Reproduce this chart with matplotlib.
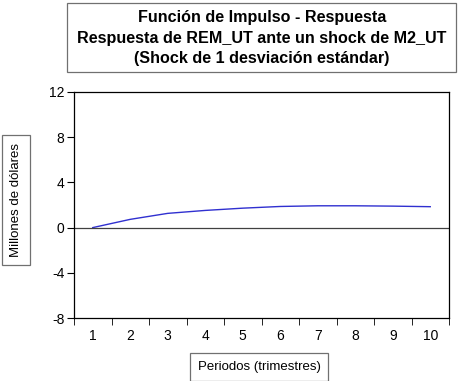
import numpy as np
import matplotlib
matplotlib.use("Agg")
import matplotlib.pyplot as plt
from matplotlib.ticker import FixedLocator

periodos = [1, 2, 3, 4, 5, 6, 7, 8, 9, 10]
respuesta = [0.0, 0.73, 1.26, 1.52, 1.72, 1.87, 1.93, 1.93, 1.90, 1.85]
y_ticks = [-8, -4, 0, 4, 8, 12]

plt.rcParams['font.family'] = ['Liberation Sans', 'DejaVu Sans']
plt.rcParams['axes.unicode_minus'] = False

fig = plt.figure(figsize=(4.58, 3.81), dpi=100)
ax = fig.add_axes([74 / 458, 1 - 318 / 381, 375 / 458, 226 / 381])

ax.plot(periodos, respuesta, color='#3030d0', lw=1.0)
ax.axhline(0, color='#404040', lw=0.9)

ax.set_xlim(0.5, 10.5)
ax.set_ylim(-8, 12)
ax.set_yticks(y_ticks)
ax.set_xticks(periodos)
ax.xaxis.set_minor_locator(FixedLocator(np.arange(0.5, 11, 1)))
ax.tick_params(axis='x', which='major', length=0, pad=8, labelsize=10)
ax.tick_params(axis='x', which='minor', length=5, direction='out')
ax.tick_params(axis='y', length=5, labelsize=10, pad=2)
for s in ax.spines.values():
    s.set_linewidth(0.9)

box = dict(boxstyle='square,pad=0.6', facecolor='white', edgecolor='#707070', lw=0.9)

fig.text(262 / 458, 1 - 38 / 381,
         "Función de Impulso - Respuesta\n"
         "Respuesta de REM_UT ante un shock de M2_UT\n"
         "(Shock de 1 desviación estándar)",
         ha='center', va='center', fontsize=11.6, fontweight='bold',
         linespacing=1.42)
fig.patches.append(plt.Rectangle((67 / 458, 1 - 72 / 381), 389 / 458, 69 / 381,
                                 transform=fig.transFigure, facecolor='none',
                                 edgecolor='#707070', lw=0.9))

fig.text(16 / 458, 1 - 200 / 381, "Millones de dólares", rotation=90,
         ha='center', va='center', fontsize=9.5, bbox=box)
fig.text(259 / 458, 1 - 367 / 381, "Periodos (trimestres)",
         ha='center', va='center', fontsize=9.5, bbox=box)

fig.savefig("out.png", dpi=100)
